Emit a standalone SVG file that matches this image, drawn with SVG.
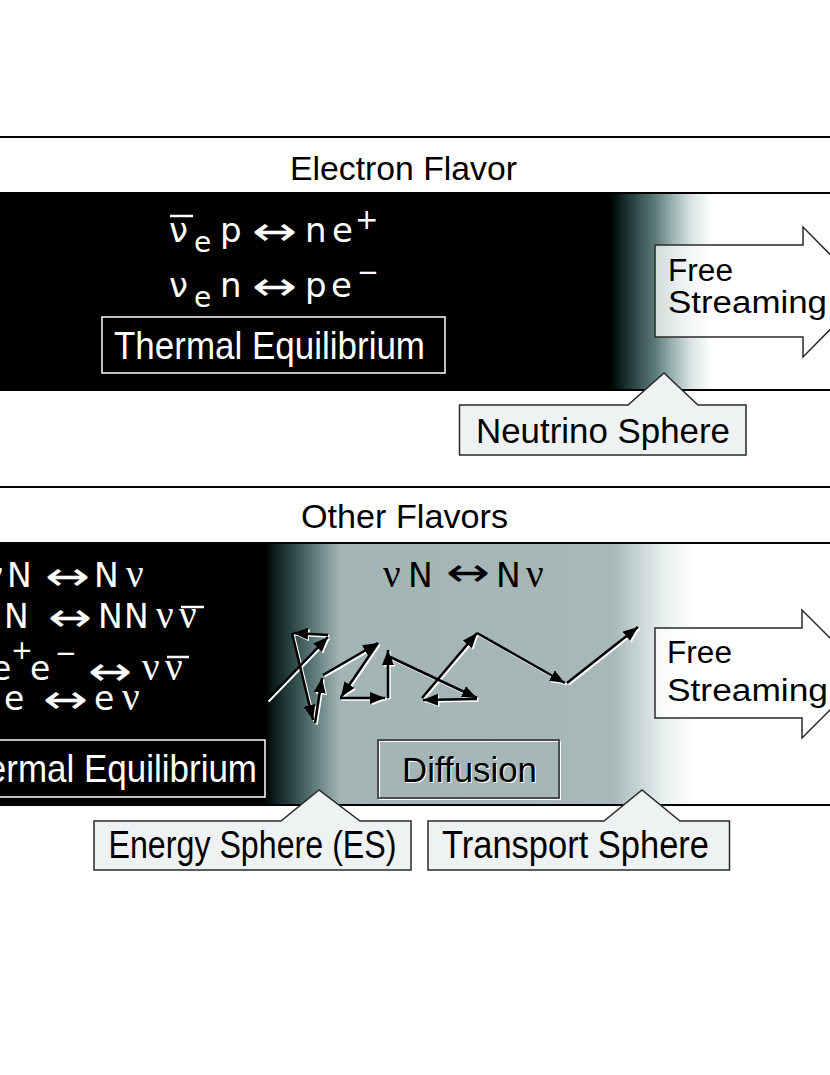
<svg xmlns="http://www.w3.org/2000/svg" width="830" height="1075" viewBox="0 0 830 1075">
<style>
.lbl{font-family:"Liberation Sans",Arial,sans-serif;}
.eq{font-family:"DejaVu Sans",Verdana,sans-serif;}
.nu{font-family:"Liberation Serif","Times New Roman",serif;}
.w{fill:#fff;}
.k{fill:#000;}
.call{fill:#eef2f2;stroke:#2a2a2a;stroke-width:1.5;}
.fs{fill:#fff;fill-opacity:0.72;stroke:#2a2a2a;stroke-width:1.5;}
.wk{stroke:#000;stroke-width:2.5;fill:none;}
.wh{stroke:#fff;stroke-width:2.5;fill:none;}
</style>
<defs>
<linearGradient id="gTop" gradientUnits="userSpaceOnUse" x1="610" y1="0" x2="712" y2="0">
<stop offset="0" stop-color="#000"/>
<stop offset="0.08" stop-color="#0b1818"/>
<stop offset="0.25" stop-color="#2f4a4a"/>
<stop offset="0.45" stop-color="#5f7d7d"/>
<stop offset="0.62" stop-color="#9fb3b3"/>
<stop offset="0.8" stop-color="#dbe4e4"/>
<stop offset="1" stop-color="#fff"/>
</linearGradient>
<linearGradient id="gBot" gradientUnits="userSpaceOnUse" x1="265" y1="0" x2="695" y2="0">
<stop offset="0" stop-color="#000"/>
<stop offset="0.02" stop-color="#0d1b1b"/>
<stop offset="0.06" stop-color="#2a4343"/>
<stop offset="0.11" stop-color="#5a7676"/>
<stop offset="0.174" stop-color="#a3b4b4"/>
<stop offset="0.81" stop-color="#a8b8b8"/>
<stop offset="0.87" stop-color="#c9d5d5"/>
<stop offset="0.93" stop-color="#eaf0f0"/>
<stop offset="1" stop-color="#fff"/>
</linearGradient>
<marker id="ahB" markerUnits="userSpaceOnUse" markerWidth="17" markerHeight="14" refX="15" refY="6" orient="auto">
<path d="M0,0 L15,6 L0,12 z" fill="#000"/>
</marker>
<marker id="ahW" markerUnits="userSpaceOnUse" markerWidth="17" markerHeight="14" refX="15" refY="6" orient="auto">
<path d="M0,0 L15,6 L0,12 z" fill="#fff"/>
</marker>
</defs>
<rect x="0" y="0" width="830" height="1075" fill="#fff"/>

<!-- Electron flavor panel -->
<g id="panel-electron">
<line x1="-5" y1="137" x2="835" y2="137" stroke="#000" stroke-width="2"/>
<text class="lbl k" x="290" y="180" font-size="33" textLength="227" lengthAdjust="spacingAndGlyphs">Electron Flavor</text>
<rect x="-5" y="193" width="845" height="197" fill="url(#gTop)" stroke="#000" stroke-width="2"/>
</g>

<g id="eq-electron" class="eq w">
<line x1="170" y1="216" x2="193" y2="216" stroke="#fff" stroke-width="2.5"/>
<text font-size="34" y="242"><tspan x="169">ν</tspan><tspan x="194" y="252" font-size="28">e</tspan><tspan x="220" y="242">p</tspan><tspan x="305" y="242">n</tspan><tspan x="332">e</tspan><tspan x="355" y="229" font-size="28">+</tspan></text>
<text font-size="40" x="252" y="245" textLength="45" lengthAdjust="spacingAndGlyphs">↔</text>
<text font-size="34" y="297"><tspan x="169">ν</tspan><tspan x="194" y="307" font-size="28">e</tspan><tspan x="220" y="297">n</tspan><tspan x="305" y="297">p</tspan><tspan x="331">e</tspan><tspan x="357" y="281" font-size="26">−</tspan></text>
<text font-size="40" x="252" y="300" textLength="45" lengthAdjust="spacingAndGlyphs">↔</text>
</g>

<g id="node-thermal-top">
<rect x="102" y="317" width="343" height="56" fill="#000" stroke="#fff" stroke-width="1.5"/>
<text class="lbl w" x="114" y="359" font-size="39" textLength="311" lengthAdjust="spacingAndGlyphs">Thermal Equilibrium</text>
</g>

<g id="node-free-top">
<path class="fs" d="M655,245 L803,245 L803,227 L867,292 L803,357 L803,337 L655,337 Z"/>
<text class="lbl k" x="668" y="281" font-size="31" textLength="65" lengthAdjust="spacingAndGlyphs">Free</text>
<text class="lbl k" x="668" y="313" font-size="31" textLength="159" lengthAdjust="spacingAndGlyphs">Streaming</text>
</g>

<g id="node-neutrino-sphere">
<path class="call" d="M459.5,405 L628,405 L664,373 L698,405 L746,405 L746,455 L459.5,455 Z"/>
<text class="lbl k" x="476" y="443" font-size="35" textLength="254" lengthAdjust="spacingAndGlyphs">Neutrino Sphere</text>
</g>

<!-- Other flavors panel -->
<g id="panel-other">
<line x1="-5" y1="487" x2="835" y2="487" stroke="#000" stroke-width="2"/>
<text class="lbl k" x="301" y="528" font-size="33" textLength="207" lengthAdjust="spacingAndGlyphs">Other Flavors</text>
<rect x="-5" y="543" width="845" height="262" fill="url(#gBot)" stroke="#000" stroke-width="2"/>
</g>

<g id="eq-other" class="w">
<text y="587" font-size="33"><tspan class="nu" x="-15" font-size="39">ν</tspan><tspan class="eq" x="7">N</tspan><tspan class="eq" x="94">N</tspan><tspan class="nu" x="126" font-size="39">ν</tspan></text>
<text class="eq" x="45" y="590" font-size="40" textLength="45" lengthAdjust="spacingAndGlyphs">↔</text>
<text y="628" font-size="33"><tspan class="eq" x="-22">N</tspan><tspan class="eq" x="4">N</tspan><tspan class="eq" x="98">N</tspan><tspan class="eq" x="124">N</tspan><tspan class="nu" x="156" font-size="39">ν</tspan><tspan class="nu" x="179" font-size="39">ν</tspan></text>
<line x1="181" y1="607" x2="204" y2="607" stroke="#fff" stroke-width="2.5"/>
<text class="eq" x="48" y="631" font-size="40" textLength="44" lengthAdjust="spacingAndGlyphs">↔</text>
<text y="680" font-size="33"><tspan class="eq" x="-9">e</tspan><tspan class="eq" x="11" y="659" font-size="26">+</tspan><tspan class="eq" x="30" y="680">e</tspan><tspan class="eq" x="55" y="662" font-size="26">−</tspan><tspan class="nu" x="142" y="680" font-size="39">ν</tspan><tspan class="nu" x="165" font-size="39">ν</tspan></text>
<line x1="167" y1="657" x2="189" y2="657" stroke="#fff" stroke-width="2.5"/>
<text class="eq" x="88" y="685" font-size="40" textLength="44" lengthAdjust="spacingAndGlyphs">↔</text>
<text y="710" font-size="33"><tspan class="nu" x="-18" font-size="39">ν</tspan><tspan class="eq" x="4">e</tspan><tspan class="eq" x="94">e</tspan><tspan class="nu" x="122" font-size="39">ν</tspan></text>
<text class="eq" x="43" y="713" font-size="40" textLength="45" lengthAdjust="spacingAndGlyphs">↔</text>
</g>

<g id="eq-diffusion" class="k">
<text y="587" font-size="33"><tspan class="nu" x="383" font-size="39">ν</tspan><tspan class="eq" x="408">N</tspan><tspan class="eq" x="496">N</tspan><tspan class="nu" x="526" font-size="39">ν</tspan></text>
<text class="eq" x="446" y="586" font-size="40" textLength="44" lengthAdjust="spacingAndGlyphs">↔</text>
</g>

<g id="node-thermal-bottom">
<rect x="-5" y="740" width="270" height="57" fill="#000" stroke="#fff" stroke-width="1.5"/>
<text class="lbl w" x="-54" y="782" font-size="39" textLength="311" lengthAdjust="spacingAndGlyphs">Thermal Equilibrium</text>
</g>

<g id="node-diffusion">
<rect x="379.5" y="741.5" width="181" height="58" fill="none" stroke="#fff" stroke-width="1"/>
<rect x="378" y="740" width="181" height="58" fill="none" stroke="#2a2a2a" stroke-width="1.5"/>
<text class="lbl w" x="403" y="783" font-size="35" textLength="135" lengthAdjust="spacingAndGlyphs">Diffusion</text>
<text class="lbl k" x="402" y="782" font-size="35" textLength="135" lengthAdjust="spacingAndGlyphs">Diffusion</text>
</g>

<g id="node-free-bottom">
<path class="fs" d="M655,628 L802,628 L802,610 L866,674 L802,738 L802,718 L655,718 Z"/>
<text class="lbl k" x="667" y="663" font-size="31" textLength="65" lengthAdjust="spacingAndGlyphs">Free</text>
<text class="lbl k" x="667" y="701" font-size="31" textLength="161" lengthAdjust="spacingAndGlyphs">Streaming</text>
</g>

<g id="node-energy-sphere">
<path class="call" d="M94,821 L281,821 L319,790 L360,821 L411,821 L411,870 L94,870 Z"/>
<text class="lbl k" x="108.5" y="858" font-size="38" textLength="288" lengthAdjust="spacingAndGlyphs">Energy Sphere (ES)</text>
</g>

<g id="node-transport-sphere">
<path class="call" d="M428,821 L604,821 L642,790 L680,821 L729.5,821 L729.5,870 L428,870 Z"/>
<text class="lbl k" x="442" y="858" font-size="38" textLength="267" lengthAdjust="spacingAndGlyphs">Transport Sphere</text>
</g>

<!-- random walk connectors -->
<g id="connectors">
<g transform="translate(1.5,1.5)" class="wh" marker-end="url(#ahW)">
<line x1="267" y1="700" x2="328" y2="637"/>
<line x1="328" y1="635" x2="293" y2="633"/>
<line x1="292" y1="633" x2="313" y2="720"/>
<line x1="315" y1="723" x2="322" y2="678"/>
<line x1="323" y1="675" x2="378" y2="643"/>
<line x1="378" y1="643" x2="341" y2="697"/>
<line x1="340" y1="698" x2="385" y2="698"/>
<line x1="388" y1="698" x2="388" y2="650"/>
<line x1="388" y1="656" x2="477" y2="698"/>
<line x1="477" y1="699" x2="423" y2="700"/>
<line x1="422" y1="698" x2="477" y2="633"/>
<line x1="477" y1="633" x2="565" y2="683"/>
<line x1="567" y1="683" x2="638" y2="627"/>
</g>
<g class="wk" marker-end="url(#ahB)">
<line x1="267" y1="700" x2="328" y2="637"/>
<line x1="328" y1="635" x2="293" y2="633"/>
<line x1="292" y1="633" x2="313" y2="720"/>
<line x1="315" y1="723" x2="322" y2="678"/>
<line x1="323" y1="675" x2="378" y2="643"/>
<line x1="378" y1="643" x2="341" y2="697"/>
<line x1="340" y1="698" x2="385" y2="698"/>
<line x1="388" y1="698" x2="388" y2="650"/>
<line x1="388" y1="656" x2="477" y2="698"/>
<line x1="477" y1="699" x2="423" y2="700"/>
<line x1="422" y1="698" x2="477" y2="633"/>
<line x1="477" y1="633" x2="565" y2="683"/>
<line x1="567" y1="683" x2="638" y2="627"/>
</g>
</g>
</svg>
